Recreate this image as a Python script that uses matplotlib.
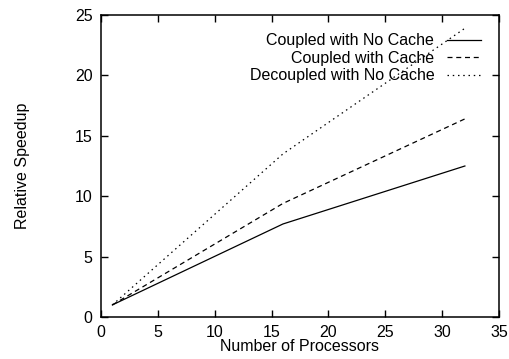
import matplotlib
matplotlib.use('Agg')
import matplotlib.pyplot as plt

plt.rcParams['font.family'] = ['Liberation Sans', 'DejaVu Sans']

# data
processors = [1, 16, 32]
coupled_no_cache = [1, 7.7, 12.5]
coupled_cache = [1, 9.4, 16.4]
decoupled_no_cache = [1, 13.5, 23.9]

x_ticks = [0, 5, 10, 15, 20, 25, 30, 35]
y_ticks = [0, 5, 10, 15, 20, 25]

fig = plt.figure(figsize=(5.09, 3.59), dpi=100)
ax = fig.add_axes([101 / 509, 42 / 359, 398 / 509, 302 / 359])

ax.plot(processors, coupled_no_cache, color='black', lw=0.9, ls='-', label='Coupled with No Cache')
ax.plot(processors, coupled_cache, color='black', lw=0.9, ls=(0, (4, 3)), label='Coupled with Cache')
ax.plot(processors, decoupled_no_cache, color='black', lw=0.9, ls=(0, (1.2, 3)), label='Decoupled with No Cache')

ax.set_xlim(0, 35)
ax.set_ylim(0, 25)
ax.set_xticks(x_ticks)
ax.set_yticks(y_ticks)
ax.tick_params(direction='in', top=True, right=True, length=5, width=1, labelsize=11.5)
ax.tick_params(axis='x', pad=6)
ax.tick_params(axis='y', pad=6)
for s in ax.spines.values():
    s.set_linewidth(1.1)

ax.set_xlabel('Number of Processors', fontsize=11.5, labelpad=-1)
ax.set_ylabel('Relative Speedup', fontsize=11.5, labelpad=32)

leg = ax.legend(loc='upper right', frameon=False, fontsize=11.5, markerfirst=False,
                handlelength=2.1, handletextpad=0.8, labelspacing=0.15,
                borderaxespad=0.0, bbox_to_anchor=(0.97, 0.96))
for t in leg.get_texts():
    t.set_ha('right')
leg._legend_box.align = 'right'

fig.savefig('out.png', dpi=100)
